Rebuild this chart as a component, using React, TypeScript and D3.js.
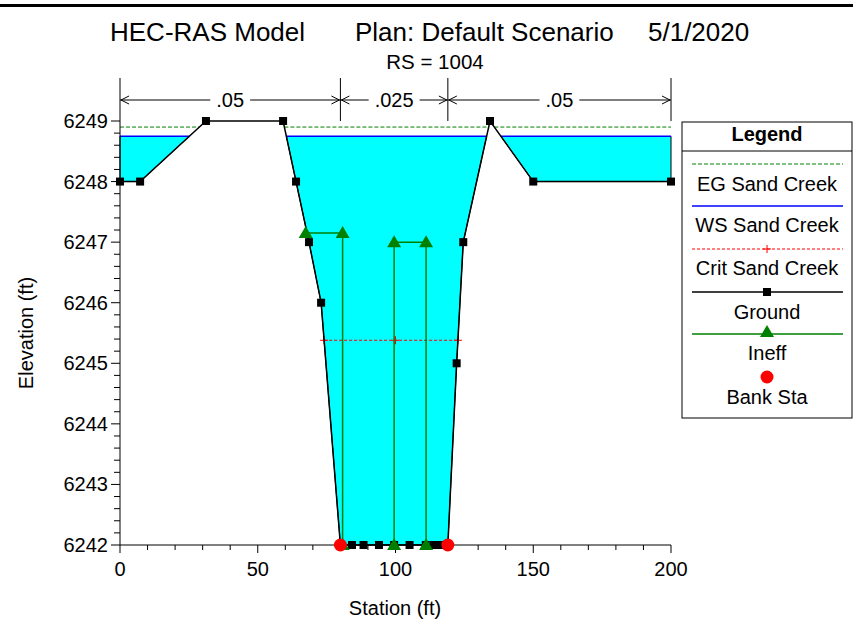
import React from 'react';
import * as d3 from 'd3';

// ---------- data ----------
const groundStations = [0, 7.3, 31.2, 59.2, 63.9, 68.6, 73, 80, 84.2, 88.4, 94, 99.5, 105.1, 111, 114, 116.2, 119, 122.2, 124.6, 134.3, 150, 200];
const groundElevations = [6248, 6248, 6249, 6249, 6248, 6247, 6246, 6242, 6242, 6242, 6242, 6242, 6242, 6242, 6242, 6242, 6242, 6245, 6247, 6249, 6248, 6248];
const wsElevation = 6248.75;
const egElevation = 6248.9;
const critElevation = 6245.38;
const critMidStation = 100;
const bankStations = [80, 119];
const bankElevations = [6242, 6242];
const ineffStations = [[67.4, 80.8], [99.5, 111.1]];
const ineffElevations = [6247.15, 6247.0];
const nValueBreaks = [0, 80, 119, 200];
const nValues = ['.05', '.025', '.05'];
const xTicks = [0, 50, 100, 150, 200];
const yTicks = [6242, 6243, 6244, 6245, 6246, 6247, 6248, 6249];
const legendItems = ['EG Sand Creek', 'WS Sand Creek', 'Crit Sand Creek', 'Ground', 'Ineff', 'Bank Sta'];

const FONT = '"Liberation Sans", Arial, Helvetica, sans-serif';

const x = d3.scaleLinear().domain([0, 200]).range([120, 671]);
const y = d3.scaleLinear().domain([6242, 6249]).range([545, 121]);

function groundAt(s: number) {
  for (let i = 1; i < groundStations.length; i++) {
    if (s <= groundStations[i]) {
      const s0 = groundStations[i - 1], s1 = groundStations[i];
      const t = (s - s0) / (s1 - s0);
      return groundElevations[i - 1] + t * (groundElevations[i] - groundElevations[i - 1]);
    }
  }
  return groundElevations[groundElevations.length - 1];
}

function wetPolys(level: number) {
  const polys: [number, number][][] = [];
  let cur: [number, number][] | null = null;
  const n = groundStations.length;
  for (let i = 0; i < n; i++) {
    const s = groundStations[i], e = groundElevations[i];
    if (i > 0) {
      const s0 = groundStations[i - 1], e0 = groundElevations[i - 1];
      if ((e0 < level) !== (e < level)) {
        const t = (level - e0) / (e - e0);
        const sx = s0 + t * (s - s0);
        if (cur) { cur.push([sx, level]); polys.push(cur); cur = null; }
        else cur = [[sx, level]];
      }
    }
    if (e < level) {
      if (!cur) cur = [[s, level]];
      cur.push([s, e]);
    }
  }
  if (cur) { cur.push([groundStations[n - 1], level]); polys.push(cur); }
  return polys;
}

const line = d3.line<[number, number]>().x(d => x(d[0])).y(d => y(d[1]));

function Tri({ cx, cy }: { cx: number; cy: number }) {
  return <path d={`M${cx},${cy - 7}L${cx + 7},${cy + 5}L${cx - 7},${cy + 5}Z`} fill="#008000" />;
}
function Sq({ cx, cy }: { cx: number; cy: number }) {
  return <rect x={cx - 4} y={cy - 4} width={8} height={8} fill="#000" />;
}
function Plus({ cx, cy }: { cx: number; cy: number }) {
  return <path d={`M${cx - 4},${cy}H${cx + 4}M${cx},${cy - 4}V${cy + 4}`} stroke="#ff0000" strokeWidth={1} />;
}

export default function App() {
  const wsPolys = wetPolys(wsElevation);
  const egPolys = wetPolys(egElevation);
  const critPolys = wetPolys(critElevation).filter(p => p.length > 2 && p[0][0] > 60 && p[0][0] < 140);

  const yMinor = d3.range(6242, 6249.001, 0.2).filter(v => Math.abs(v - Math.round(v)) > 1e-6);
  const xMinor = d3.range(0, 200.001, 10).filter(v => v % 50 !== 0);

  const dimTop = 78, dimBot = 121, dimY = 100;
  const nFont = 20;
  const tickFont = 20;
  const legFont = 20;

  const legX1 = 692, legX2 = 843, legCx = 767;
  const legLineY = [164, 206, 249, 292, 334, 377];
  const legTextY = [191, 232, 275, 319, 360, 404];

  return (
    <svg width={855} height={626} style={{ position: 'absolute', left: 0, top: 0, background: '#fff' }} fontFamily={FONT}>
      <rect x={0} y={0} width={855} height={626} fill="#fff" />
      {/* top frame line */}
      <line x1={0} x2={853} y1={5.5} y2={5.5} stroke="#000" strokeWidth={3} />

      {/* titles */}
      <text x={110} y={41} fontSize={26}>HEC-RAS Model</text>
      <text x={355} y={41} fontSize={26}>Plan: Default Scenario</text>
      <text x={648} y={41} fontSize={26}>5/1/2020</text>
      <text x={435} y={69} fontSize={20.5} textAnchor="middle">RS = 1004</text>

      {/* n-value dimension lines */}
      {nValueBreaks.map((b, i) => (
        <line key={'nb' + i} x1={x(b)} x2={x(b)} y1={dimTop} y2={dimBot} stroke="#000" strokeWidth={1} />
      ))}
      {nValues.map((v, i) => {
        const xa = x(nValueBreaks[i]), xb = x(nValueBreaks[i + 1]);
        const cx = (xa + xb) / 2;
        const w = v.split('').reduce((acc, c) => acc + (c === '.' ? 0.278 : 0.556), 0) * nFont;
        const gap = w / 2 + 6;
        return (
          <g key={'nv' + i}>
            <line x1={xa} x2={cx - gap} y1={dimY} y2={dimY} stroke="#000" />
            <line x1={cx + gap} x2={xb} y1={dimY} y2={dimY} stroke="#000" />
            <path d={`M${xa + 9},${dimY - 4}L${xa + 1},${dimY}L${xa + 9},${dimY + 4}`} fill="none" stroke="#000" />
            <path d={`M${xb - 9},${dimY - 4}L${xb - 1},${dimY}L${xb - 9},${dimY + 4}`} fill="none" stroke="#000" />
            <text x={cx} y={dimY + 7} fontSize={nFont} textAnchor="middle">{v}</text>
          </g>
        );
      })}

      {/* water fill */}
      {wsPolys.map((p, i) => (
        <path key={'f' + i} d={line(p) + 'Z'} fill="#00ffff" stroke="none" />
      ))}
      {wsPolys.map((p, i) => (
        <path key={'fo' + i} d={line(p) || ''} fill="none" stroke="#000" strokeWidth={1} />
      ))}
      {/* WS line */}
      {wsPolys.map((p, i) => (
        <line key={'ws' + i} x1={x(p[0][0])} x2={x(p[p.length - 1][0])} y1={y(wsElevation)} y2={y(wsElevation)} stroke="#0000ff" strokeWidth={1.5} />
      ))}
      {/* EG line */}
      {egPolys.map((p, i) => (
        <line key={'eg' + i} x1={x(p[0][0])} x2={x(p[p.length - 1][0])} y1={y(egElevation)} y2={y(egElevation)} stroke="#008000" strokeWidth={1} strokeDasharray="4,2" />
      ))}
      {/* Crit line */}
      {critPolys.map((p, i) => {
        const s0 = p[0][0], s1 = p[p.length - 1][0];
        return (
          <g key={'cr' + i}>
            <line x1={x(s0)} x2={x(s1)} y1={y(critElevation)} y2={y(critElevation)} stroke="#ff0000" strokeWidth={1} strokeDasharray="3,2" />
            <Plus cx={x(s0)} cy={y(critElevation)} />
            <Plus cx={x(critMidStation)} cy={y(critElevation)} />
            <Plus cx={x(s1)} cy={y(critElevation)} />
          </g>
        );
      })}

      {/* axes */}
      <line x1={120} x2={120} y1={y(6242)} y2={y(6249)} stroke="#000" />
      <line x1={x(0)} x2={x(200)} y1={545} y2={545} stroke="#000" />
      {yTicks.map(t => (
        <g key={'yt' + t}>
          <line x1={111} x2={120} y1={y(t)} y2={y(t)} stroke="#000" />
          <text x={108} y={y(t) + 7} fontSize={tickFont} textAnchor="end">{t}</text>
        </g>
      ))}
      {yMinor.map((t, i) => (
        <line key={'ym' + i} x1={114} x2={120} y1={y(t)} y2={y(t)} stroke="#000" />
      ))}
      {xTicks.map(t => (
        <g key={'xt' + t}>
          <line x1={x(t)} x2={x(t)} y1={545} y2={553} stroke="#000" />
          <text x={x(t)} y={576} fontSize={tickFont} textAnchor="middle">{t}</text>
        </g>
      ))}
      {xMinor.map((t, i) => (
        <line key={'xm' + i} x1={x(t)} x2={x(t)} y1={545} y2={550} stroke="#000" />
      ))}
      <text x={395} y={615} fontSize={tickFont} textAnchor="middle">Station (ft)</text>
      <text transform={`translate(33,333) rotate(-90)`} fontSize={tickFont} textAnchor="middle">Elevation (ft)</text>

      {/* ground */}
      <path d={line(groundStations.map((s, i) => [s, groundElevations[i]] as [number, number])) || ''} fill="none" stroke="#000" strokeWidth={1.5} />
      {groundStations.map((s, i) => (
        <Sq key={'g' + i} cx={x(s)} cy={y(groundElevations[i])} />
      ))}

      {/* ineffective areas */}
      {ineffStations.map((st, i) => {
        const el = ineffElevations[i];
        const pts: [number, number][] = [];
        const gl = groundAt(st[0]);
        if (gl < el) pts.push([st[0], gl]);
        pts.push([st[0], el], [st[1], el]);
        const gr = groundAt(st[1]);
        if (gr < el) pts.push([st[1], gr]);
        return (
          <g key={'in' + i}>
            <path d={line(pts) || ''} fill="none" stroke="#008000" strokeWidth={1.5} />
            {pts.map((p, j) => <Tri key={j} cx={x(p[0])} cy={y(p[1])} />)}
          </g>
        );
      })}

      {/* bank stations */}
      {bankStations.map((s, i) => (
        <circle key={'b' + i} cx={x(s)} cy={y(bankElevations[i])} r={6.5} fill="#ff0000" />
      ))}

      {/* legend */}
      <rect x={682} y={122} width={170} height={296} fill="#fff" stroke="#000" strokeWidth={1} />
      <text x={legCx} y={141} fontSize={legFont} fontWeight="bold" textAnchor="middle">Legend</text>
      <line x1={682} x2={852} y1={151} y2={151} stroke="#000" />
      <line x1={legX1} x2={legX2} y1={legLineY[0]} y2={legLineY[0]} stroke="#008000" strokeDasharray="4,2" />
      <line x1={legX1} x2={legX2} y1={legLineY[1]} y2={legLineY[1]} stroke="#0000ff" strokeWidth={1.5} />
      <line x1={legX1} x2={legX2} y1={legLineY[2]} y2={legLineY[2]} stroke="#ff0000" strokeDasharray="3,2" />
      <Plus cx={legCx} cy={legLineY[2]} />
      <line x1={legX1} x2={legX2} y1={legLineY[3]} y2={legLineY[3]} stroke="#000" strokeWidth={1.5} />
      <Sq cx={legCx} cy={legLineY[3]} />
      <line x1={legX1} x2={legX2} y1={legLineY[4]} y2={legLineY[4]} stroke="#008000" strokeWidth={1.5} />
      <Tri cx={legCx} cy={legLineY[4] - 2} />
      <circle cx={legCx} cy={legLineY[5]} r={6.5} fill="#ff0000" />
      {legendItems.map((t, i) => (
        <text key={'lt' + i} x={legCx} y={legTextY[i]} fontSize={legFont} textAnchor="middle">{t}</text>
      ))}
    </svg>
  );
}
